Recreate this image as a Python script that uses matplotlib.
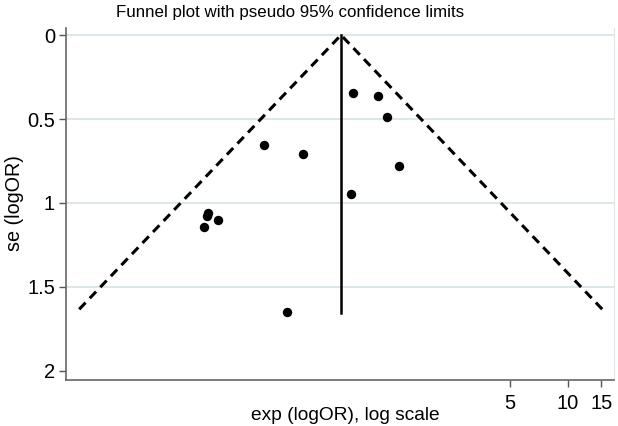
import matplotlib
matplotlib.use("Agg")
import matplotlib.pyplot as plt
import numpy as np

plt.rcParams['font.family'] = ['Liberation Sans', 'DejaVu Sans']

# study estimates
odds_ratio = [0.761, 1.028, 1.146, 1.318, 0.741, 0.261, 0.415, 0.1335, 0.131, 0.1504, 0.1267, 0.344]
se_logor = [0.347, 0.361, 0.489, 0.777, 0.946, 0.655, 0.708, 1.057, 1.080, 1.101, 1.141, 1.647]

pooled_or = 0.657
line_se_max = 1.655
funnel_se_max = 1.633
funnel_lo = 0.0283
funnel_hi = 15.15

y_ticks = [0, 0.5, 1, 1.5, 2]
y_labels = ['0', '0.5', '1', '1.5', '2']
x_ticks = [5, 10, 15]
x_labels = ['5', '10', '15']

fig = plt.figure(figsize=(6.18, 4.26), dpi=100)
ax = fig.add_axes([66/618, 46/426, 548/618, 352/426])

for g in y_ticks[:-1]:
    ax.axhline(g, color='#d5e2e8', lw=1.2, zorder=0)

ax.plot([funnel_lo, pooled_or, funnel_hi], [funnel_se_max, 0, funnel_se_max],
        color='black', lw=2.2, dashes=(3, 2), zorder=2)
ax.plot([pooled_or, pooled_or], [0, line_se_max], color='black', lw=1.8, zorder=2)
ax.scatter(odds_ratio, se_logor, s=46, color='black', zorder=3, linewidths=0)

ax.set_xscale('log')
ax.set_xlim(0.02415, 17.44)
ax.set_ylim(2.054, -0.042)

ax.set_yticks(y_ticks)
ax.set_yticklabels(y_labels, fontsize=14.5)
ax.set_xticks(x_ticks)
ax.set_xticklabels(x_labels, fontsize=14.5)
ax.xaxis.set_minor_locator(matplotlib.ticker.NullLocator())
ax.tick_params(axis='y', length=5, width=1, color='#555555', pad=3)
ax.tick_params(axis='x', length=5, width=1, color='#555555', pad=5)

ax.spines['top'].set_visible(False)
ax.spines['left'].set_color('#666666')
ax.spines['bottom'].set_color('#666666')
ax.spines['right'].set_color('#dde6ea')
ax.spines['left'].set_linewidth(1.2)
ax.spines['bottom'].set_linewidth(1.2)

fig.text(290/618, 1 - 12/426, 'Funnel plot with pseudo 95% confidence limits',
         ha='center', va='center', fontsize=12.2)
fig.text(345/618, 1 - 415/426, 'exp (logOR), log scale', ha='center', va='center', fontsize=13.8)
fig.text(14/618, 1 - 203/426, 'se (logOR)', ha='center', va='center', rotation=90, fontsize=14.2)

fig.savefig('out.png', dpi=100)
